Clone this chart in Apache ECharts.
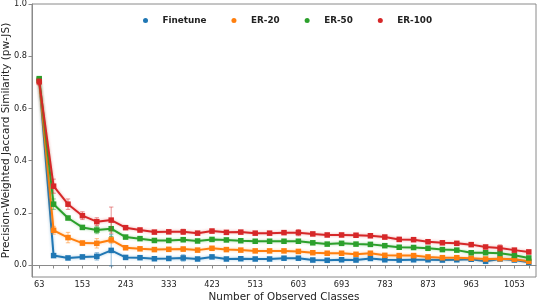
<!DOCTYPE html>
<html>
<head>
<meta charset="utf-8">
<script src="https://cdn.jsdelivr.net/npm/echarts@6/dist/echarts.min.js"></script>
<style>
html,body{margin:0;padding:0;background:#fff;}
#chart{width:538px;height:302px;}
</style>
</head>
<body>
<div id="chart"></div>
<script>
// Categories: number of observed classes
const classes = [63,93,123,153,183,213,243,273,303,333,363,393,423,453,483,513,543,573,603,633,663,693,723,753,783,813,843,873,903,933,963,993,1023,1053,1083];

const seriesNames = ['Finetune','ER-20','ER-50','ER-100'];

const finetune = [0.708,0.036,0.027,0.031,0.033,0.056,0.029,0.028,0.024,0.025,0.027,0.023,0.031,0.023,0.024,0.023,0.023,0.026,0.026,0.019,0.018,0.020,0.019,0.025,0.020,0.019,0.020,0.020,0.019,0.020,0.022,0.014,0.023,0.019,0.010];
const er20 = [0.707,0.133,0.105,0.084,0.083,0.096,0.066,0.062,0.059,0.060,0.061,0.057,0.064,0.059,0.057,0.054,0.054,0.054,0.052,0.047,0.045,0.045,0.041,0.045,0.037,0.036,0.036,0.031,0.028,0.028,0.026,0.023,0.024,0.022,0.014];
const er50 = [0.714,0.233,0.180,0.144,0.134,0.139,0.107,0.101,0.094,0.094,0.097,0.092,0.098,0.096,0.093,0.091,0.091,0.091,0.091,0.085,0.080,0.083,0.080,0.079,0.074,0.068,0.067,0.064,0.059,0.057,0.047,0.047,0.045,0.037,0.027];
const er100 = [0.702,0.302,0.233,0.189,0.166,0.172,0.143,0.134,0.126,0.127,0.127,0.122,0.130,0.125,0.126,0.122,0.122,0.124,0.124,0.119,0.115,0.115,0.114,0.112,0.107,0.098,0.097,0.089,0.085,0.083,0.078,0.069,0.065,0.057,0.050];

// Error bar half-widths
const finetuneErr = [0.008,0.006,0.004,0.006,0.014,0.060,0.005,0.004,0.004,0.005,0.012,0.004,0.006,0.004,0.004,0.004,0.004,0.006,0.005,0.004,0.004,0.004,0.004,0.005,0.004,0.004,0.004,0.004,0.004,0.004,0.004,0.004,0.004,0.004,0.005];
const er20Err = [0.010,0.015,0.020,0.008,0.018,0.012,0.006,0.005,0.005,0.006,0.008,0.005,0.006,0.004,0.004,0.004,0.004,0.004,0.005,0.004,0.004,0.004,0.004,0.004,0.004,0.004,0.004,0.004,0.004,0.004,0.004,0.004,0.004,0.004,0.004];
const er50Err = [0.005,0.020,0.006,0.006,0.014,0.030,0.005,0.005,0.005,0.005,0.008,0.005,0.005,0.005,0.005,0.005,0.005,0.005,0.006,0.005,0.005,0.005,0.005,0.005,0.005,0.005,0.005,0.005,0.005,0.005,0.005,0.005,0.010,0.005,0.005];
const er100Err = [0.012,0.027,0.020,0.015,0.015,0.050,0.006,0.007,0.005,0.006,0.010,0.004,0.007,0.005,0.005,0.005,0.005,0.005,0.012,0.006,0.006,0.006,0.006,0.007,0.007,0.008,0.006,0.006,0.006,0.006,0.006,0.006,0.012,0.006,0.007];

const yTicks = [0.0,0.2,0.4,0.6,0.8,1.0];

const colors = ['#1f77b4','#ff7f0e','#2ca02c','#d62728'];
const values = [finetune, er20, er50, er100];
const errs = [finetuneErr, er20Err, er50Err, er100Err];

const FONT = 'DejaVu Sans';

function errItem(params, api) {
  const x = api.value(0), lo = api.value(1), hi = api.value(2);
  const pLo = api.coord([x, lo]);
  const pHi = api.coord([x, hi]);
  const cw = 2.2;
  const style = {stroke: api.visual('color'), lineWidth: 1, opacity: 0.5};
  return {
    type: 'group',
    children: [
      {type:'line', shape:{x1:pLo[0], y1:pLo[1], x2:pHi[0], y2:pHi[1]}, style: style},
      {type:'line', shape:{x1:pLo[0]-cw, y1:pLo[1], x2:pLo[0]+cw, y2:pLo[1]}, style: style},
      {type:'line', shape:{x1:pHi[0]-cw, y1:pHi[1], x2:pHi[0]+cw, y2:pHi[1]}, style: style}
    ]
  };
}

const series = [];
seriesNames.forEach((name, k) => {
  series.push({
    type: 'custom',
    name: name + ' err',
    renderItem: errItem,
    itemStyle: {color: colors[k]},
    encode: {x: 0, y: [1, 2]},
    data: values[k].map((v, i) => [i, v - errs[k][i], v + errs[k][i]]),
    z: 2 + k * 2,
    silent: true
  });
  series.push({
    type: 'line',
    name: name,
    data: values[k],
    symbol: 'rect',
    symbolSize: 5.5,
    showSymbol: true,
    lineStyle: {color: colors[k], width: 2, shadowColor: colors[k] + '66', shadowBlur: 3},
    itemStyle: {color: colors[k]},
    z: 3 + k * 2,
    animation: false
  });
});

const chart = echarts.init(document.getElementById('chart'), null, {renderer: 'canvas'});
chart.setOption({
  animation: false,
  color: colors,
  textStyle: {fontFamily: FONT},
  grid: {left: 32, right: 2, top: 4, bottom: 25, show: true, borderColor: '#8a8a8a', borderWidth: 1,
    containLabel: false, outerBoundsMode: 'none'},
  legend: {
    data: seriesNames.map(n => ({name: n, icon: 'circle'})),
    top: 11,
    left: 138,
    itemWidth: 24,
    itemHeight: 5,
    itemGap: 25,
    textStyle: {fontFamily: FONT, fontSize: 8.8, fontWeight: 'bold', color: '#222'}
  },
  xAxis: {
    type: 'category',
    data: classes,
    boundaryGap: true,
    name: 'Number of Observed Classes',
    nameLocation: 'middle',
    nameGap: 15,
    nameMoveOverlap: false,
    nameTextStyle: {fontFamily: FONT, fontSize: 10.4, color: '#222'},
    axisLine: {show: true, lineStyle: {color: '#8a8a8a', width: 1}},
    axisTick: {show: true, alignWithLabel: true, interval: 0, length: 3.5, lineStyle: {color: '#8a8a8a'}},
    axisLabel: {interval: 2, margin: 4, fontFamily: FONT, fontSize: 8.2, color: '#222'},
    splitLine: {show: false}
  },
  yAxis: {
    type: 'value',
    min: -0.046,
    max: 1.0,
    name: 'Precision-Weighted Jaccard Similarity (pw-JS)',
    nameLocation: 'middle',
    nameGap: 20,
    nameMoveOverlap: false,
    nameTextStyle: {fontFamily: FONT, fontSize: 10.5, color: '#222'},
    axisLine: {show: true, lineStyle: {color: '#8a8a8a', width: 1}},
    axisTick: {show: true, length: 3.5, customValues: yTicks, lineStyle: {color: '#8a8a8a'}},
    axisLabel: {customValues: yTicks, margin: 5, fontFamily: FONT, fontSize: 8.2, color: '#222',
      formatter: v => v.toFixed(1)},
    splitLine: {show: false}
  },
  series: series
});
</script>
</body>
</html>
